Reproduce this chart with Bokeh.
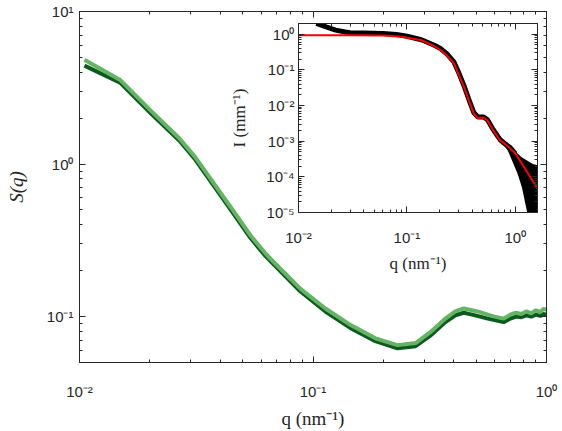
from bokeh.plotting import figure
from bokeh.models import FixedTicker, CustomJSTickFormatter, LogAxis, Range1d
from bokeh.layouts import column
from bokeh.embed import file_html
from bokeh.resources import INLINE

# ---------------- main plot data: S(q) ----------------
q_main = [0.0105, 0.0150, 0.0202, 0.0268, 0.0313, 0.036, 0.0443, 0.054, 0.0625, 0.069, 0.0884, 0.113,
          0.145, 0.185, 0.230, 0.275, 0.318, 0.369, 0.407, 0.442, 0.48, 0.52,
          0.56, 0.60, 0.655, 0.70, 0.74, 0.78, 0.82, 0.86, 0.90, 0.94, 0.97, 1.0]
s_dark = [4.42, 3.40, 2.15, 1.42, 1.07, 0.79, 0.505, 0.327, 0.250, 0.214, 0.146, 0.108,
          0.084, 0.069, 0.062, 0.064, 0.075, 0.092, 0.102, 0.106, 0.103, 0.100,
          0.097, 0.095, 0.092, 0.097, 0.100, 0.099, 0.102, 0.100, 0.103, 0.101, 0.104, 0.103]
s_light = [4.83, 3.54, 2.24, 1.47, 1.11, 0.82, 0.525, 0.340, 0.260, 0.222, 0.152, 0.113,
           0.088, 0.072, 0.065, 0.067, 0.079, 0.097, 0.108, 0.113, 0.110, 0.107,
           0.103, 0.100, 0.097, 0.103, 0.106, 0.104, 0.108, 0.105, 0.110, 0.107, 0.112, 0.111]

# ---------------- inset data: I(q) ----------------
q_fit = [0.01, 0.03, 0.06, 0.09, 0.136, 0.179, 0.206, 0.237, 0.272, 0.302, 0.336, 0.372,
         0.413, 0.450, 0.51, 0.553, 0.614, 0.723, 0.80, 0.90, 1.0, 1.2, 1.4, 1.6]
i_fit = [0.94, 0.94, 0.92, 0.85, 0.68, 0.46, 0.355, 0.241, 0.150, 0.0705, 0.033, 0.014,
         0.0059, 0.0045, 0.0046, 0.0038, 0.0022, 0.00105, 0.00085, 0.00062, 0.00045,
         0.00019, 0.00009, 0.000047]

q_data = [0.0146, 0.018, 0.022, 0.027, 0.03, 0.04, 0.06, 0.08, 0.1, 0.136, 0.179, 0.206,
          0.237, 0.272, 0.302, 0.336, 0.372, 0.413, 0.45, 0.51, 0.553, 0.614, 0.723, 0.80,
          0.90, 1.0]
i_data = [2.0, 1.6, 1.3, 1.15, 1.1, 1.08, 1.05, 0.98, 0.88, 0.70, 0.49, 0.39,
          0.27, 0.165, 0.08, 0.036, 0.015, 0.0064, 0.0048, 0.0048, 0.0040, 0.0023, 0.0011, 0.00085,
          0.00065, 0.00045]

q_noise = [0.75, 0.85, 0.95, 1.05, 1.15, 1.25, 1.35, 1.45, 1.6]
i_noise_low = [0.0009, 0.00055, 0.00025, 0.00012, 0.00005, 0.000015, 0.000005, 0.000005, 0.000005]
i_noise_high = [0.0012, 0.0009, 0.0006, 0.00045, 0.00035, 0.0003, 0.00026, 0.00023, 0.00021]

# ---------------- ticks ----------------
main_x_major = [0.01, 0.1, 1]
main_y_major = [0.1, 1, 10]
inset_x_major = [0.01, 0.1, 1]
inset_y_major = [1e-5, 1e-4, 1e-3, 1e-2, 1e-1, 1]


def minors(decades):
    return [d * m for d in decades for m in range(2, 10)]


main_x_minor = minors([0.01, 0.1])
main_y_minor = minors([0.01, 0.1, 1])
inset_x_minor = minors([0.01, 0.1, 1])
inset_y_minor = minors([1e-6, 1e-5, 1e-4, 1e-3, 1e-2, 1e-1, 1])

fmt_code = """
const e = Math.round(Math.log10(tick));
const sup = {'-':'\\u207b','0':'\\u2070','1':'\\u00b9','2':'\\u00b2','3':'\\u00b3','4':'\\u2074','5':'\\u2075','6':'\\u2076','7':'\\u2077','8':'\\u2078','9':'\\u2079'};
return '10' + String(e).split('').map(c => sup[c]).join('');
"""

AX = "#262626"
DARK = "#0b5a1e"
LIGHT = "#64b464"
TICK_FONT = "Liberation Sans"
LABEL_FONT = "Liberation Serif"


def style_axis(ax, ticker, labels=True, size="15px"):
    ax.ticker = ticker
    ax.major_tick_in = 6
    ax.major_tick_out = 0
    ax.minor_tick_in = 3
    ax.minor_tick_out = 0
    ax.axis_line_color = AX
    ax.major_tick_line_color = AX
    ax.minor_tick_line_color = AX
    if labels:
        ax.formatter = CustomJSTickFormatter(code=fmt_code)
        ax.major_label_text_font = TICK_FONT
        ax.major_label_text_font_size = size
        ax.major_label_text_color = AX
    else:
        ax.major_label_text_font_size = "1px"
        ax.major_label_text_alpha = 0
        ax.major_label_standoff = 0


def make_box(fig, xt, yt, size):
    bottom = fig.below[0]
    left = fig.left[0]
    style_axis(bottom, xt, True, size)
    style_axis(left, yt, True, size)
    top = LogAxis()
    style_axis(top, FixedTicker(ticks=xt.ticks, minor_ticks=xt.minor_ticks), False)
    right = LogAxis()
    style_axis(right, FixedTicker(ticks=yt.ticks, minor_ticks=yt.minor_ticks), False)
    fig.add_layout(top, "above")
    fig.add_layout(right, "right")
    fig.xgrid.visible = False
    fig.ygrid.visible = False
    fig.outline_line_color = AX
    return bottom, left


# ---------------- main figure ----------------
p = figure(width=562, height=431, x_axis_type="log", y_axis_type="log",
           x_range=Range1d(0.01, 1), y_range=Range1d(0.05, 10),
           output_backend="svg", toolbar_location=None,
           min_border_left=79, min_border_right=16, min_border_top=11, min_border_bottom=67)
bx, ly = make_box(p, FixedTicker(ticks=main_x_major, minor_ticks=main_x_minor),
                  FixedTicker(ticks=main_y_major, minor_ticks=main_y_minor), "15px")
bx.major_label_standoff = 20
ly.major_label_standoff = 6
bx.axis_label = "q (nm\u207b\u00b9)"
ly.axis_label = "S(q)"
for ax in (bx, ly):
    ax.axis_label_text_font = LABEL_FONT
    ax.axis_label_text_font_size = "19px"
    ax.axis_label_text_color = AX
ly.axis_label_text_font_style = "italic"
bx.axis_label_text_font_style = "normal"
bx.axis_label_standoff = 5
ly.axis_label_standoff = 17

p.line(q_main, s_dark, line_color=DARK, line_width=4)
p.line(q_main, s_light, line_color=LIGHT, line_width=4)

# ---------------- inset figure ----------------
ins = figure(width=334, height=266, x_axis_type="log", y_axis_type="log",
             x_range=Range1d(0.01, 1.6), y_range=Range1d(1e-5, 2),
             output_backend="svg", toolbar_location=None,
             min_border_left=69, min_border_right=4, min_border_top=7, min_border_bottom=70,
             border_fill_alpha=0, background_fill_color="white",
             margin=(-415, 0, 0, 219))
ibx, ily = make_box(ins, FixedTicker(ticks=inset_x_major, minor_ticks=inset_x_minor),
                    FixedTicker(ticks=inset_y_major, minor_ticks=inset_y_minor), "15px")
ibx.major_label_standoff = 16
ily.major_label_standoff = 4
ibx.axis_label = "q (nm\u207b\u00b9)"
ily.axis_label = "I (mm\u207b\u00b9)"
for ax in (ibx, ily):
    ax.axis_label_text_font = LABEL_FONT
    ax.axis_label_text_font_size = "17px"
    ax.axis_label_text_color = AX
    ax.axis_label_text_font_style = "normal"
ibx.axis_label_standoff = 5
ily.axis_label_standoff = 14

ins.varea(x=q_noise, y1=i_noise_low, y2=i_noise_high, fill_color="black")
ins.line(q_data, i_data, line_color="black", line_width=5)
ins.line(q_fit, i_fit, line_color="#ff0000", line_width=2)

layout = column(p, ins)
open("out.html", "w").write(file_html(layout, INLINE))
